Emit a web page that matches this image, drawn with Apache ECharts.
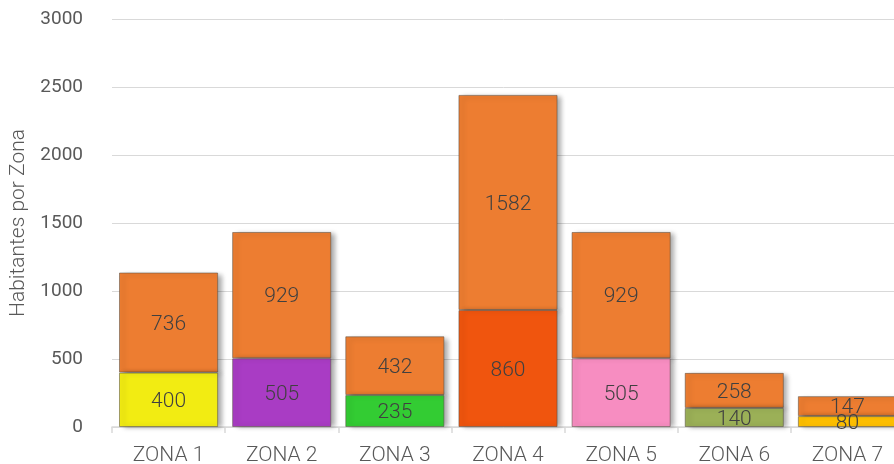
<!DOCTYPE html>
<html>
<head>
<meta charset="utf-8">
<script src="https://cdn.jsdelivr.net/npm/echarts@6/dist/echarts.min.js"></script>
<style>
  html, body { margin: 0; padding: 0; background: #fff; }
  #chart { width: 894px; height: 464px; }
</style>
</head>
<body>
<div id="chart"></div>
<script>
// Population per zone, split into two stacked groups
const zonas = ['ZONA 1', 'ZONA 2', 'ZONA 3', 'ZONA 4', 'ZONA 5', 'ZONA 6', 'ZONA 7'];
const baseValues = [400, 505, 235, 860, 505, 140, 80];
const topValues = [736, 929, 432, 1582, 929, 258, 147];
const baseColors = ['#F2EC12', '#A93CC4', '#33CC33', '#F0550E', '#F78DC1', '#9BB057', '#FFC000'];
const topColor = '#ED7D31';

const labelFont = 'Roboto, "Open Sans", sans-serif';

const chart = echarts.init(document.getElementById('chart'));

const shadowStyle = {
  shadowColor: 'rgba(0,0,0,0.35)',
  shadowBlur: 5,
  shadowOffsetX: 4,
  shadowOffsetY: 2,
  borderColor: 'rgba(90,80,70,0.55)',
  borderWidth: 1
};

const segmentLabel = {
  show: true,
  position: 'inside',
  offset: [0, 2],
  color: '#404040',
  fontSize: 21,
  fontWeight: 300,
  fontFamily: labelFont
};

chart.setOption({
  animation: false,
  grid: { left: 112, right: -10, top: 19, bottom: 37, outerBoundsMode: 'none' },
  xAxis: {
    type: 'category',
    data: zonas,
    axisLine: { lineStyle: { color: '#D9D9D9', width: 1.5 } },
    axisTick: { show: true, length: 6, lineStyle: { color: '#D9D9D9', width: 1.5 } },
    axisLabel: { color: '#595959', fontSize: 21, fontWeight: 300, fontFamily: labelFont, margin: 18 }
  },
  yAxis: {
    type: 'value',
    min: 0,
    max: 3000,
    interval: 500,
    name: 'Habitantes por Zona',
    nameLocation: 'middle',
    nameGap: 82,
    nameTextStyle: { color: '#595959', fontSize: 21, fontWeight: 300, fontFamily: labelFont },
    axisLine: { show: false },
    axisTick: { show: false },
    axisLabel: {
      color: '#595959',
      fontSize: 19,
      fontFamily: labelFont,
      margin: 29,
      formatter: (v) => String(v)
    },
    splitLine: { lineStyle: { color: '#D9D9D9', width: 1 } }
  },
  series: [
    {
      name: 'base',
      type: 'bar',
      stack: 'total',
      z: 3,
      barCategoryGap: '12.4%',
      data: baseValues.map((v, i) => ({ value: v, itemStyle: { color: baseColors[i] } })),
      itemStyle: Object.assign({}, shadowStyle, { shadowOffsetY: 0 }),
      label: segmentLabel
    },
    {
      name: 'top',
      type: 'bar',
      stack: 'total',
      z: 2,
      barCategoryGap: '12.4%',
      data: topValues,
      itemStyle: Object.assign({ color: topColor }, shadowStyle),
      label: segmentLabel
    }
  ]
});
</script>
</body>
</html>
